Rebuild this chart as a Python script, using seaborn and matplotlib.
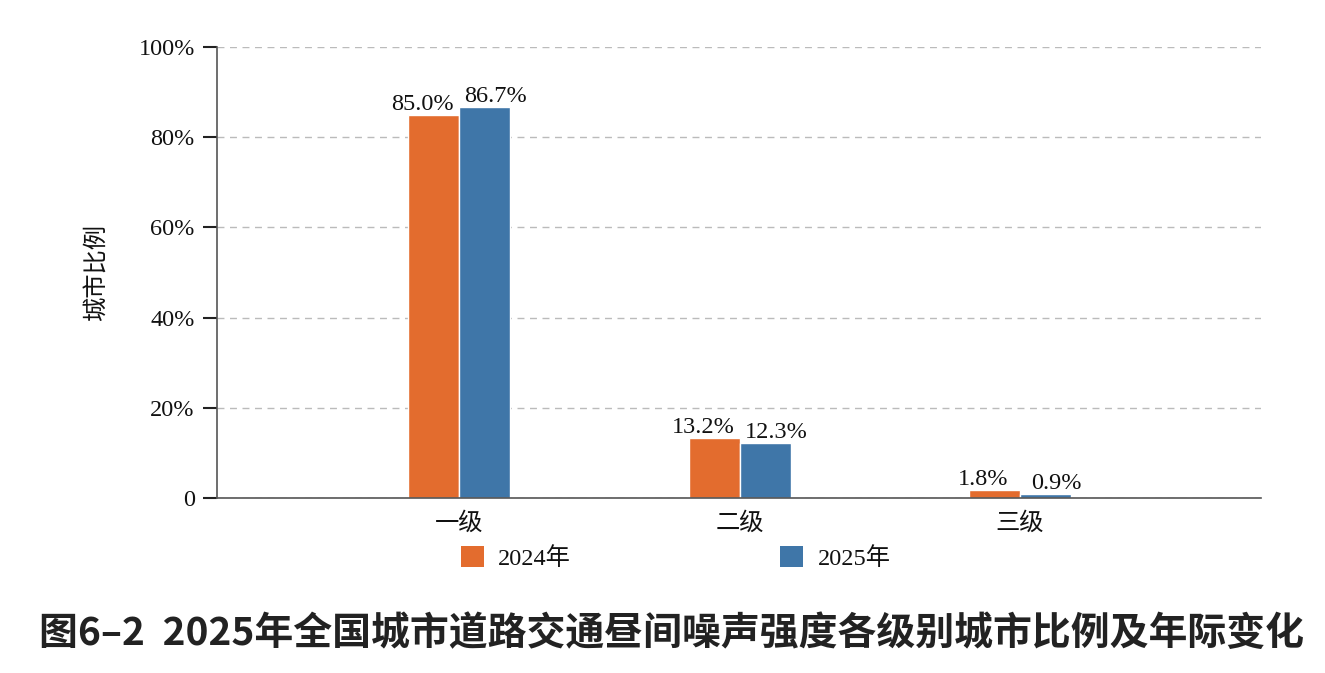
import seaborn as sns
import matplotlib.pyplot as plt
import pandas as pd
from matplotlib.patches import Patch

sns.set_style('white')
plt.rcParams['font.family'] = ['Liberation Serif', 'Noto Sans CJK SC']
plt.rcParams['text.color'] = '#111111'
plt.rcParams['axes.labelcolor'] = '#111111'
plt.rcParams['xtick.color'] = '#111111'
plt.rcParams['ytick.color'] = '#111111'

# data
levels = ['一级', '二级', '三级']
years = ['2024年', '2025年']
share_2024 = [85.0, 13.2, 1.8]
share_2025 = [86.7, 12.3, 0.9]
colors = ['#E36C2E', '#3F76A8']
yticks = [0, 20, 40, 60, 80, 100]

df = pd.DataFrame({
    'level': levels * 2,
    'year': [years[0]] * 3 + [years[1]] * 3,
    'share': share_2024 + share_2025,
})

fig = plt.figure(figsize=(13.25, 6.73), dpi=100)
ax = fig.add_axes([0.1638, 0.26, 0.7879, 0.670])

sns.barplot(data=df, x='level', y='share', hue='year', order=levels, hue_order=years,
            palette=colors, width=0.364, gap=0, saturation=1, ax=ax, legend=False)

# labels sit a bit outward from the bar centres so the pairs don't collide
for cont, dx in zip(ax.containers, [-8, 8]):
    labels = ax.bar_label(cont, fmt='%.1f%%', padding=0, fontsize=17.5)
    for t in labels:
        t.xyann = (dx, t.xyann[1])

ax.set_xlim(-0.863, 2.859)
ax.set_ylim(0, 100)
ax.set_yticks(yticks)
ax.set_yticklabels(['0' if v == 0 else f'{v}%' for v in yticks])
ax.grid(axis='y', color='#bbbbbb', linestyle=(0, (5, 4)), linewidth=1)
ax.set_axisbelow(True)

for s in ['top', 'right']:
    ax.spines[s].set_visible(False)
for s in ['left', 'bottom']:
    ax.spines[s].set_color('#555555')
    ax.spines[s].set_linewidth(1.2)

ax.tick_params(axis='y', length=10, width=1.5, color='#222222', labelsize=17.5, pad=6, left=True)
ax.tick_params(axis='x', length=0, labelsize=17.5, pad=10)
ax.set_xlabel('')
ax.set_ylabel('城市比例', fontsize=17.5, labelpad=22)

handles = [Patch(facecolor=c, edgecolor='none') for c in colors]
fig.legend(handles, years, loc='center', bbox_to_anchor=(0.510, 0.171), ncol=2,
           frameon=False, fontsize=17.5, handlelength=0.95, handleheight=0.95,
           handletextpad=0.58, columnspacing=8.6)

fig.text(0.507, 0.059, '图6–2  2025年全国城市道路交通昼间噪声强度各级别城市比例及年际变化',
         ha='center', va='center', fontsize=28, fontweight='bold',
         family=['Noto Sans CJK SC', 'DejaVu Sans'], color='#222222')

fig.savefig('out.png', dpi=100)
